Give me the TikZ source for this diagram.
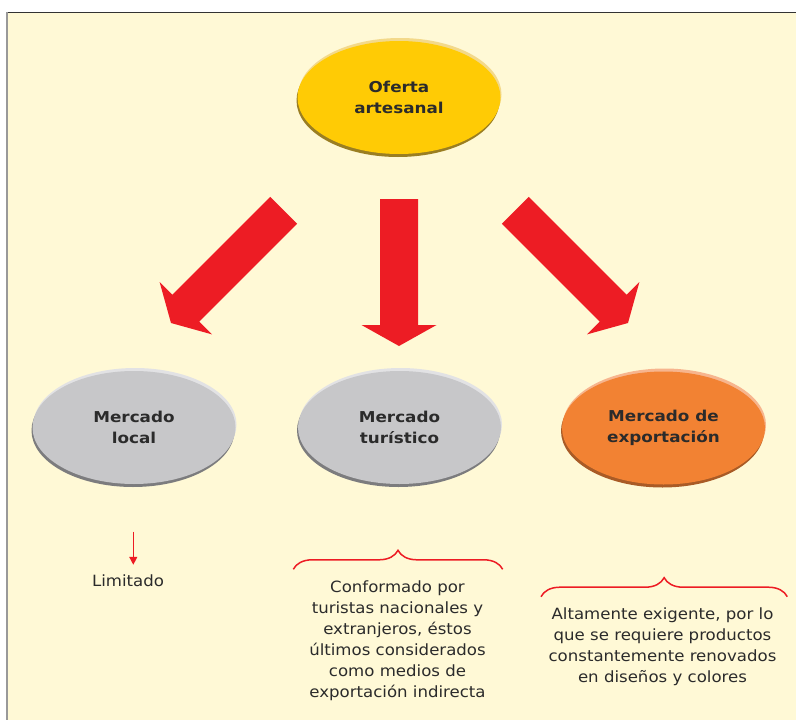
\documentclass[tikz,border=0pt]{standalone}
\usepackage{fontspec}
\setmainfont{DejaVu Sans}[FakeStretch=1.07]
\newfontfamily\lblfont{DejaVu Sans}[FakeStretch=1.12]
\usetikzlibrary{shapes.geometric,decorations.pathreplacing,arrows.meta}
\definecolor{bg}{HTML}{FFF9D6}
\definecolor{ared}{HTML}{ED1C24}
\definecolor{yel}{HTML}{FFCB05}
\definecolor{yellight}{HTML}{F3D98A}
\definecolor{yeldark}{HTML}{9A7E22}
\definecolor{gry}{HTML}{C7C7C9}
\definecolor{grylight}{HTML}{E2E2E4}
\definecolor{grydark}{HTML}{7C7C7E}
\definecolor{org}{HTML}{F28233}
\definecolor{orglight}{HTML}{F7B58E}
\definecolor{orgdark}{HTML}{A95B26}
\definecolor{txt}{HTML}{2B2B2B}
\definecolor{frametop}{HTML}{333333}
\definecolor{frameleft}{HTML}{999999}
\begin{document}
\begin{tikzpicture}[x=1pt,y=-1pt,
  disk/.style={ellipse, inner sep=0pt, minimum width=203pt, minimum height=113pt,
    text=txt, font=\lblfont\bfseries\fontsize{15}{21.7}\selectfont, align=center},
  body/.style={text=txt, font=\fontsize{15.5}{21}\selectfont, align=center, inner sep=0pt},
  bigarrow/.style={fill=ared},
  bracebar/.style={draw=ared, line width=1.5pt, decorate, decoration={brace, amplitude=19pt}},
  smallarrow/.style={draw=ared, line width=1.3pt, -{Triangle[width=8pt,length=8pt]}},
]
\useasboundingbox (0,0) rectangle (796,720);
\fill[white] (0,0) rectangle (796,720);
\fill[bg] (7,13) rectangle (796,720);
\draw[frametop, line width=1.5pt] (6,12.5) -- (796,12.5);
\draw[frameleft, line width=2pt] (7,12) -- (7,720);

% disks: rims
\fill[yellight] (400,94.5) ellipse [x radius=101.5, y radius=56.5];
\fill[yeldark] (398,100.5) ellipse [x radius=101.5, y radius=56.5];
\node[disk, fill=yel] (oferta) at (399,97.5) {Oferta\\artesanal};

\fill[grylight] (135,424.5) ellipse [x radius=101.5, y radius=56.5];
\fill[grydark] (133,430.5) ellipse [x radius=101.5, y radius=56.5];
\node[disk, fill=gry] (local) at (134,427.5) {Mercado\\local};

\fill[grylight] (400.5,424.5) ellipse [x radius=101.5, y radius=56.5];
\fill[grydark] (398.5,430.5) ellipse [x radius=101.5, y radius=56.5];
\node[disk, fill=gry] (turistico) at (399.5,427.5) {Mercado\\turístico};

\fill[orglight] (664.5,425) ellipse [x radius=101.5, y radius=56.5];
\fill[orgdark] (662.5,431) ellipse [x radius=101.5, y radius=56.5];
\node[disk, fill=org] (export) at (663.5,428) {Mercado de\\exportación};

% big arrows
\fill[bigarrow] (270.3,196.9) -- (297.1,223.7) -- (199.2,321.6) -- (212,334.4)
  -- (171,323) -- (159.6,282) -- (172.4,294.8) -- cycle;
\fill[bigarrow] (380,199) -- (418,199) -- (418,325) -- (436.5,325) -- (399,346)
  -- (361.5,325) -- (380,325) -- cycle;
\fill[bigarrow] (528.7,196.9) -- (501.9,223.7) -- (599.8,321.6) -- (587,334.4)
  -- (628,323) -- (639.4,282) -- (626.6,294.8) -- cycle;

% bottom texts
\node[body] (limitado) at (128,581) {Limitado};
\coordinate (limtop) at (133.3,531.7);
\draw[smallarrow, shorten >=10pt] (limtop) -- (limtop |- limitado.north);

\node[body] (conformado) at (397.5,640.5) {Conformado por\\turistas nacionales y\\extranjeros, éstos\\últimos considerados\\como medios de\\exportación indirecta};
\node[body] (altamente) at (662.5,646.7) {Altamente exigente, por lo\\que se requiere productos\\constantemente renovados\\en diseños y colores};

\coordinate (b1l) at (293.3,569.3);
\coordinate (b1r) at (502.7,569.3);
\draw[bracebar] (b1l) -- (b1r);
\coordinate (b2l) at (541,596.7);
\coordinate (b2r) at (787.3,596.7);
\draw[bracebar] (b2l) -- (b2r);
\end{tikzpicture}
\end{document}
